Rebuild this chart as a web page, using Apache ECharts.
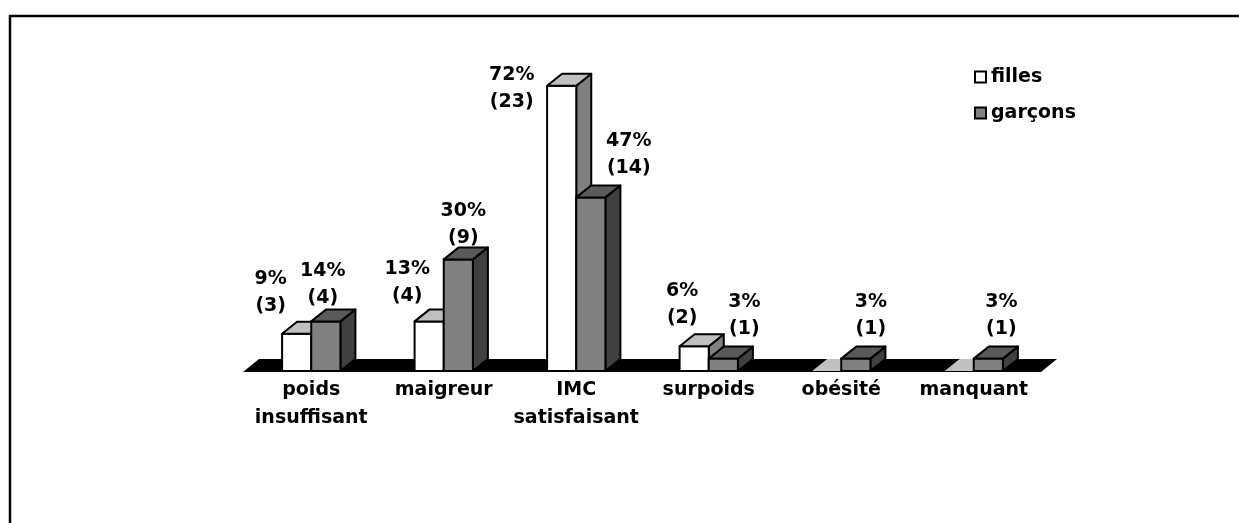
<!DOCTYPE html>
<html>
<head>
<meta charset="utf-8">
<script src="https://cdn.jsdelivr.net/npm/echarts@6/dist/echarts.min.js"></script>
<style>
    html, body {margin:0;padding:0;background:#ffffff;}
    #chart {width:1239px;height:523px;}
</style>
</head>
<body>
<div id="chart"></div>
<script>
    // categories and values (counts drive bar heights, percents are shown in labels)
    var categories = ['poids\ninsuffisant', 'maigreur', 'IMC\nsatisfaisant', 'surpoids', 'obésité', 'manquant'];
    var fillesCount = [3, 4, 23, 2, 0, 0];
    var garconsCount = [4, 9, 14, 1, 1, 1];
    var fillesPct = [9, 13, 72, 6, 0, 0];
    var garconsPct = [14, 30, 47, 3, 3, 3];

    // label nudges (style only), [dx, dy] in px
    var fillesLabelShift = [[-26, 0], [-22, 2], [-50, 44], [-12, -1], [0, 0], [0, 0]];
    var garconsLabelShift = [[-3, 4], [5, 6], [38, -2], [21, -2], [15, -2], [13, -2]];

    var FONT = 'DejaVu Sans';
    var DX = 15, DY = -12;

    function barRenderer(offset, faces, pcts, shifts) {
        return function (params, api) {
            var i = api.value(0), v = api.value(1);
            var base = api.coord([i, 0]);
            var top = api.coord([i, v]);
            var bw = api.size([1, 0])[0] * 0.22;
            var x0 = base[0] + offset * bw, x1 = x0 + bw;
            var y0 = base[1], y1 = top[1];
            var line = {stroke: '#000', lineWidth: 2, lineJoin: 'round'};
            var children = [];
            if (v > 0) {
                children.push({
                    type: 'polygon',
                    shape: {points: [[x1, y0], [x1 + DX, y0 + DY], [x1 + DX, y1 + DY], [x1, y1]]},
                    style: Object.assign({fill: faces.side}, line)
                });
                children.push({
                    type: 'rect',
                    shape: {x: x0, y: y1, width: bw, height: y0 - y1},
                    style: Object.assign({fill: faces.front}, line)
                });
            }
            children.push({
                type: 'polygon',
                shape: {points: [[x0, y1], [x0 + DX, y1 + DY], [x1 + DX, y1 + DY], [x1, y1]]},
                style: v > 0 ? Object.assign({fill: faces.top}, line) : {fill: faces.top}
            });
            if (v > 0) {
                var sh = shifts[i];
                children.push({
                    type: 'text',
                    style: {
                        text: pcts[i] + '%\n(' + v + ')',
                        x: (x0 + x1) / 2 + sh[0],
                        y: y1 - 14 + sh[1],
                        align: 'center',
                        verticalAlign: 'bottom',
                        font: 'bold 19px "' + FONT + '"',
                        lineHeight: 27,
                        fill: '#000'
                    }
                });
            }
            return {type: 'group', children: children};
        };
    }

    var chart = echarts.init(document.getElementById('chart'));
    var option = {
        animation: false,
        backgroundColor: '#ffffff',
        graphic: [{
            type: 'rect',
            shape: {x: 10, y: 16, width: 1400, height: 700},
            style: {fill: null, stroke: '#000', lineWidth: 2.5}
        }],
        legend: {
            orient: 'vertical',
            left: 974,
            top: 66,
            padding: 0,
            itemWidth: 11,
            itemHeight: 11,
            itemGap: 14,
            textStyle: {fontFamily: FONT, fontSize: 19, fontWeight: 'bold', color: '#000', lineHeight: 22},
            data: [
                {name: 'filles', icon: 'rect', itemStyle: {color: '#ffffff', borderColor: '#000', borderWidth: 2}},
                {name: 'garçons', icon: 'rect', itemStyle: {color: '#808080', borderColor: '#000', borderWidth: 2}}
            ]
        },
        grid: {left: 245, right: 199, top: 61, bottom: 152},
        xAxis: {
            type: 'category',
            data: categories,
            axisLine: {show: false},
            axisTick: {show: false},
            axisLabel: {
                interval: 0,
                margin: 5,
                fontFamily: FONT,
                fontSize: 19,
                fontWeight: 'bold',
                color: '#000',
                lineHeight: 28
            }
        },
        yAxis: {
            type: 'value',
            min: 0,
            max: 25,
            show: false,
            splitLine: {show: false}
        },
        series: [
            {
                name: 'sol',
                type: 'custom',
                silent: true,
                data: [[0, 0]],
                renderItem: function (params, api) {
                    var cs = params.coordSys;
                    var y = cs.y + cs.height;
                    return {
                        type: 'polygon',
                        shape: {points: [[cs.x - 2, y + 1], [cs.x + 14, y - 12], [cs.x + cs.width + 17, y - 12], [cs.x + cs.width + 1, y + 1]]},
                        style: {fill: '#000'}
                    };
                }
            },
            {
                name: 'filles',
                type: 'custom',
                itemStyle: {color: '#ffffff', borderColor: '#000'},
                encode: {x: 0, y: 1},
                data: fillesCount.map(function (v, i) { return [i, v]; }),
                renderItem: barRenderer(-1, {front: '#ffffff', top: '#c0c0c0', side: '#808080'}, fillesPct, fillesLabelShift)
            },
            {
                name: 'garçons',
                type: 'custom',
                itemStyle: {color: '#808080', borderColor: '#000'},
                encode: {x: 0, y: 1},
                data: garconsCount.map(function (v, i) { return [i, v]; }),
                renderItem: barRenderer(0, {front: '#808080', top: '#5a5a5a', side: '#404040'}, garconsPct, garconsLabelShift)
            }
        ]
    };
    chart.setOption(option);
</script>
</body>
</html>
